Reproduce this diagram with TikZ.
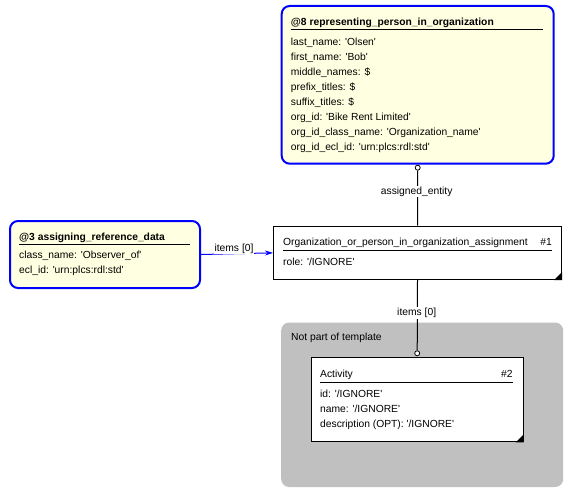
\documentclass[tikz,border=0pt]{standalone}
\usepackage{fontspec}
\setmainfont{Liberation Sans}[Ligatures=TeXOff]
\usetikzlibrary{arrows.meta}
\definecolor{boxyellow}{RGB}{255,255,225}
\definecolor{boxblue}{RGB}{0,0,255}
\definecolor{regiongray}{RGB}{192,192,192}
\tikzset{
  txt/.style={anchor=base west, inner sep=0pt, font=\fontsize{10.3}{12}\selectfont},
  txtr/.style={anchor=base east, inner sep=0pt, font=\fontsize{10.3}{12}\selectfont},
  ttl/.style={anchor=base west, inner sep=0pt, font=\fontsize{10.3}{12}\selectfont\bfseries},
  refbox/.style={draw=boxblue, line width=2pt, fill=boxyellow, rounded corners=8pt, anchor=north west, inner sep=0pt},
  entbox/.style={draw=black, line width=1pt, fill=white, anchor=north west, inner sep=0pt},
  circ/.style={circle, draw=black, fill=white, line width=0.8pt, inner sep=0pt, minimum size=5pt},
  lbl/.style={fill=white, inner sep=1pt, font=\fontsize{10.3}{12}\selectfont},
  conn/.style={draw=black, line width=1pt},
}
\begin{document}
\begin{tikzpicture}[x=1pt,y=-1pt]
\useasboundingbox[fill=white] (0,0) rectangle (572,495);

% gray region
\node[fill=regiongray, rounded corners=8pt, anchor=north west, inner sep=0pt, minimum width=282pt, minimum height=164.5pt] (region) at (281,322.3) {};
\node[txt] (regiontxt) at (291,340.5) {Not part of template};

% top reference box @8
\node[refbox, minimum width=272pt, minimum height=157.7pt] (rep) at (280.7,5) {};
\node[ttl] (reptitle) at (290.7,25.3) {@8 representing\_person\_in\_organization};
\draw[line width=1pt] (290.7,29.5) -- (543,29.5);
\node[txt] (r1) at (290.7,45.3) {last\_name: 'Olsen'};
\node[txt] (r2) at (290.7,60.3) {first\_name: 'Bob'};
\node[txt] (r3) at (290.7,75.3) {middle\_names: \$};
\node[txt] (r4) at (290.7,90.3) {prefix\_titles: \$};
\node[txt] (r5) at (290.7,105.3) {suffix\_titles: \$};
\node[txt] (r6) at (290.7,120.3) {org\_id: 'Bike Rent Limited'};
\node[txt] (r7) at (290.7,135.3) {org\_id\_class\_name: 'Organization\_name'};
\node[txt] (r8) at (290.7,150.3) {org\_id\_ecl\_id: 'urn:plcs:rdl:std'};

% left reference box @3
\node[refbox, minimum width=190pt, minimum height=67pt] (ard) at (9,220) {};
\node[ttl] (ardtitle) at (19,240) {@3 assigning\_reference\_data};
\draw[line width=1pt] (19,244.3) -- (190,244.3);
\node[txt] (a1) at (19,258.5) {class\_name: 'Observer\_of'};
\node[txt] (a2) at (19,273.5) {ecl\_id: 'urn:plcs:rdl:std'};

% Organization box #1
\node[entbox, minimum width=288pt, minimum height=53.3pt] (org) at (273,225.7) {};
\node[txt] (orgtitle) at (283,245.7) {Organization\_or\_person\_in\_organization\_assignment};
\node[txtr] (orgnum) at (552,245.7) {\#1};
\draw[line width=1pt] (283,250) -- (552,250);
\node[txt] (o1) at (283,265.5) {role: '/IGNORE'};
\fill[black] (org.south east) -- ++(0,-8) -- ++(-8,8) -- cycle;

% Activity box #2
\node[entbox, minimum width=212pt, minimum height=84pt] (act) at (310.7,357.3) {};
\node[txt] (acttitle) at (320,377.3) {Activity};
\node[txtr] (actnum) at (512.7,377.3) {\#2};
\draw[line width=1pt] (320,382) -- (512.7,382);
\node[txt] (c1) at (320,397.3) {id: '/IGNORE'};
\node[txt] (c2) at (320,412.3) {name: '/IGNORE'};
\node[txt] (c3) at (320,427.3) {description (OPT): '/IGNORE'};
\fill[black] (act.south east) -- ++(0,-8) -- ++(-8,8) -- cycle;

% connectors
\node[circ] (rc) at ([yshift=-3pt]rep.south) {};
\draw[conn] (rc) -- (org.north);
\node[lbl] (l1) at (416.7,191.5) {assigned\_entity};

\node[circ] (ac) at ([yshift=4pt]act.north) {};
\draw[conn] (org.south) -- (ac);
\node[lbl] (l2) at (416.7,313) {items [0]};

\draw[draw=boxblue, line width=1pt, -{Stealth[length=8pt,width=5pt]}] (ard.east) -- (org.west);
\node[lbl] (l3) at (234,248.5) {items [0]};
\end{tikzpicture}
\end{document}
